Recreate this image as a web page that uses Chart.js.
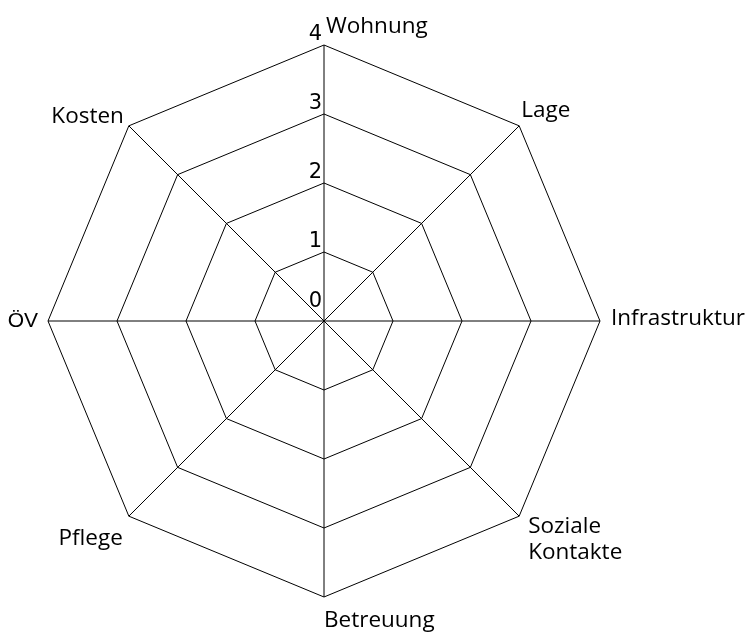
<!DOCTYPE html>
<html><head><meta charset="utf-8">
<script src="https://cdn.jsdelivr.net/npm/chart.js@4/dist/chart.umd.min.js"></script>
<style>html,body{margin:0;padding:0;background:#fff}</style>
</head><body>
<canvas id="c" width="750" height="634"></canvas>
<script>
// categories (axes of the radar)
const categories = ['Wohnung', 'Lage', 'Infrastruktur', ['Soziale', 'Kontakte'], 'Betreuung', 'Pflege', 'ÖV', 'Kosten'];
// radial tick values and labels
const tickValues = [0, 1, 2, 3, 4];
const tickLabels = ['0', '1', '2', '3', '4'];
// the reference shows an empty grid: no series values plotted
const seriesValues = [];

// label placement styles (alignment + offset from the axis end point)
const labelStyles = [
  { align: 'left',  dx: 2,   dy: -12 },
  { align: 'left',  dx: 2,   dy: -9 },
  { align: 'left',  dx: 11,  dy: 4 },
  { align: 'left',  dx: 9,   dy: 17 },
  { align: 'left',  dx: 0,   dy: 30 },
  { align: 'right', dx: -6,  dy: 29 },
  { align: 'right', dx: -10, dy: 6, font: '21px "Liberation Sans"' },
  { align: 'right', dx: -5,  dy: -3 }
];
const labelFont = '22.5px "Open Sans"';
const tickFont = '21px "DejaVu Sans"';
const lineGap = 26;

const labelPlugin = {
  id: 'customLabels',
  afterDraw(chart) {
    const s = chart.scales.r;
    const ctx = chart.ctx;
    ctx.save();
    ctx.fillStyle = '#000';
    ctx.textBaseline = 'alphabetic';
    // tick labels
    ctx.font = tickFont;
    ctx.textAlign = 'right';
    tickValues.forEach((v, i) => {
      const d = s.getDistanceFromCenterForValue(v);
      const off = v === 0 ? 14 : 5;
      ctx.fillText(tickLabels[i], s.xCenter - 2, s.yCenter - d - off);
    });
    // point labels
    categories.forEach((lab, i) => {
      const p = s.getPointPosition(i, s.drawingArea);
      const st = labelStyles[i];
      ctx.font = st.font || labelFont;
      ctx.textAlign = st.align;
      const lines = Array.isArray(lab) ? lab : [lab];
      lines.forEach((t, k) => ctx.fillText(t, p.x + st.dx, p.y + st.dy + k * lineGap));
    });
    ctx.restore();
  }
};

new Chart(document.getElementById('c'), {
  type: 'radar',
  data: {
    labels: categories,
    datasets: seriesValues.length ? [{ data: seriesValues }] : []
  },
  options: {
    responsive: false,
    animation: false,
    devicePixelRatio: 1,
    layout: { padding: { left: 48, right: 150, top: 45, bottom: 37 } },
    plugins: { legend: { display: false }, tooltip: { enabled: false } },
    scales: {
      r: {
        min: 0,
        max: 4,
        ticks: { stepSize: 1, display: false },
        pointLabels: { display: false },
        grid: { color: '#000', lineWidth: 1 },
        angleLines: { color: '#000', lineWidth: 1 }
      }
    }
  },
  plugins: [labelPlugin]
});
</script>
</body></html>
